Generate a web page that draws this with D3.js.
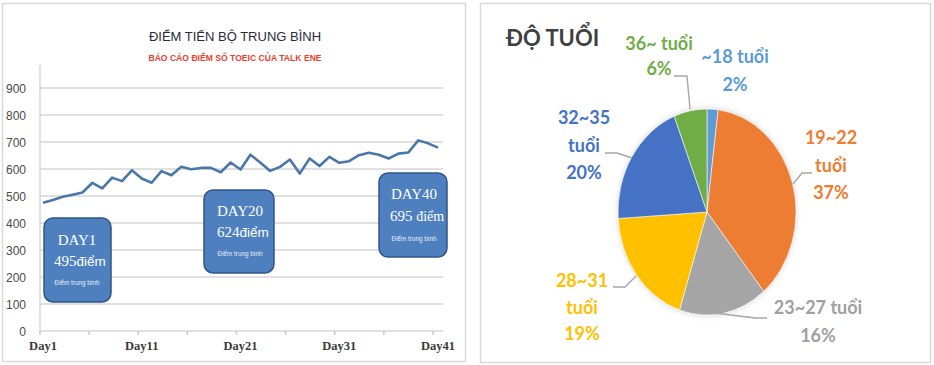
<!DOCTYPE html>
<html>
<head>
<meta charset="utf-8">
<script src="https://cdn.jsdelivr.net/npm/d3@7"></script>
<style>
  html, body { margin: 0; padding: 0; background: #fff; }
  svg { display: block; }
</style>
</head>
<body>
<svg id="chart" width="934" height="365"></svg>
<script>
// ---------- DATA ----------
const days = d3.range(1, 42);
const scores = [475, 485, 497, 505, 513, 549, 528, 568, 555, 595,
                565, 549, 592, 577, 608, 599, 604, 604, 588, 624,
                598, 653, 624, 593, 608, 635, 583, 639, 611, 645,
                623, 629, 651, 660, 653, 639, 657, 661, 706, 695, 679];
const yTicks = [0, 100, 200, 300, 400, 500, 600, 700, 800, 900];
const xTickDays = [1, 6, 11, 16, 21, 26, 31, 36, 41];
const xLabelDays = [1, 11, 21, 31, 41];
const annoTitles = ["DAY1", "DAY20", "DAY40"];
const annoScores = ["495", "624", "695"];
const lineTitle = "ĐIỂM TIẾN BỘ TRUNG BÌNH";
const lineSubtitle = "BÁO CÁO ĐIỂM SỐ TOEIC CỦA TALK ENE";

const ageGroups = ["~18 tuổi", "19~22 tuổi", "23~27 tuổi", "28~31 tuổi", "32~35 tuổi", "36~ tuổi"];
const agePercents = [2, 37, 16, 19, 20, 6];
const pieTitle = "ĐỘ TUỔI";

// ---------- LAYOUT / STYLE ----------
const ageColors = ["#5b9bd5", "#ed7d31", "#a5a5a5", "#ffc000", "#4472c4", "#70ad47"];
const ageTextColors = ["#5b9bd5", "#ed7d31", "#a0a0a0", "#ffc000", "#4472c4", "#70ad47"];
const labelLayout = [
  { lines: ["~18 tuổi", "2%"], x: 735, y: 63, lh: 28 },
  { lines: ["19~22", "tuổi", "37%"], x: 831, y: 144, lh: 27.5 },
  { lines: ["23~27 tuổi", "16%"], x: 818, y: 314, lh: 28 },
  { lines: ["28~31", "tuổi", "19%"], x: 582, y: 287, lh: 26.5 },
  { lines: ["32~35", "tuổi", "20%"], x: 584, y: 124, lh: 27.5 },
  { lines: ["36~ tuổi", "6%"], x: 659, y: 50, lh: 25 }
];
const leaderLines = [
  null,
  [[812, 173], [802, 173], [793, 184]],
  [[767, 318], [755, 318], [715, 313]],
  [[613, 287], [625, 287], [636, 276]],
  [[605, 153], [617, 153], [632, 158]],
  [[674, 76], [687, 76], [690, 109]]
];
const boxLayout = [
  { x: 44, y: 218, w: 67, h: 84, tx: 77, t1: 245, t2: 266, t3: 285 },
  { x: 204, y: 190, w: 70, h: 83, tx: 240, t1: 216, t2: 237, t3: 256 },
  { x: 379, y: 173, w: 68, h: 84, tx: 414, t1: 199, t2: 221, t3: 241 }
];

const svg = d3.select("#chart");
svg.append("rect").attr("width", 934).attr("height", 365).attr("fill", "#fff");

// ---------- LEFT PANEL: LINE CHART ----------
svg.append("rect").attr("x", 2.5).attr("y", 3.5).attr("width", 463).attr("height", 358)
  .attr("fill", "#fff").attr("stroke", "#d9d9d9").attr("stroke-width", 1.5);

const y = d3.scaleLinear().domain([0, 900]).range([331, 88]);
const xTick = d3.scaleLinear().domain([1, 41]).range([40, 433]);
const xLine = d3.scaleLinear().domain([1, 41]).range([43, 438]);

const left = svg.append("g");

left.append("g").selectAll("line").data(yTicks).join("line")
  .attr("x1", 40).attr("x2", 443)
  .attr("y1", d => y(d)).attr("y2", d => y(d))
  .attr("stroke", "#d6d6d6").attr("stroke-width", 1.5);

left.append("line").attr("x1", 40).attr("x2", 40).attr("y1", 65).attr("y2", y(0))
  .attr("stroke", "#d6d6d6").attr("stroke-width", 1.5);

left.append("g").selectAll("line").data(xTickDays).join("line")
  .attr("x1", d => xTick(d)).attr("x2", d => xTick(d))
  .attr("y1", y(0)).attr("y2", y(0) + 4)
  .attr("stroke", "#c8c8c8").attr("stroke-width", 1.5);

left.append("g").selectAll("text").data(yTicks).join("text")
  .attr("x", 26).attr("y", d => y(d) + 4.5)
  .attr("text-anchor", "end")
  .attr("font-family", "Liberation Sans, Arial, sans-serif")
  .attr("font-size", 12).attr("fill", "#4a4a4a")
  .text(d => d);

left.append("g").selectAll("text").data(xLabelDays).join("text")
  .attr("x", d => xLine(d)).attr("y", 350)
  .attr("text-anchor", "middle")
  .attr("font-family", "Liberation Serif, 'Times New Roman', serif")
  .attr("font-weight", "bold")
  .attr("font-size", 12.5).attr("fill", "#3a3a3a")
  .text(d => "Day" + d);

const line = d3.line().x((d, i) => xLine(days[i])).y(d => y(d));
left.append("path").datum(scores)
  .attr("d", line).attr("fill", "none")
  .attr("stroke", "#4a77a9").attr("stroke-width", 2.6)
  .attr("stroke-linejoin", "round");

left.append("text").attr("x", 235).attr("y", 41).attr("text-anchor", "middle")
  .attr("font-family", "Liberation Sans, Arial, sans-serif")
  .attr("font-size", 13).attr("fill", "#2a2a3a").text(lineTitle);
left.append("text").attr("x", 235).attr("y", 61).attr("text-anchor", "middle")
  .attr("font-family", "Liberation Sans, Arial, sans-serif").attr("font-weight", "bold")
  .attr("font-size", 8.6).attr("fill", "#e8402e").text(lineSubtitle);

boxLayout.forEach((b, i) => {
  const g = left.append("g");
  g.append("rect").attr("x", b.x).attr("y", b.y).attr("width", b.w).attr("height", b.h)
    .attr("rx", 9).attr("ry", 9)
    .attr("fill", "#4e7fbe").attr("stroke", "#2f5686").attr("stroke-width", 1.5);
  g.append("text").attr("x", b.tx).attr("y", b.t1).attr("text-anchor", "middle")
    .attr("font-family", "Liberation Serif, 'Times New Roman', serif")
    .attr("font-size", 15).attr("fill", "#fff").text(annoTitles[i]);
  const t2 = g.append("text").attr("x", b.tx + 3).attr("y", b.t2).attr("text-anchor", "middle")
    .attr("fill", "#fff");
  t2.append("tspan").attr("font-family", "Liberation Serif, 'Times New Roman', serif")
    .attr("font-size", 15).text(annoScores[i] + (i === 2 ? " " : ""));
  t2.append("tspan").attr("font-family", i === 2 ? "Liberation Serif, serif" : "Liberation Sans, Arial, sans-serif")
    .attr("font-size", i === 2 ? 14 : 13.5).text("điểm");
  g.append("text").attr("x", b.tx).attr("y", b.t3).attr("text-anchor", "middle")
    .attr("font-family", "Liberation Sans, Arial, sans-serif")
    .attr("font-size", 6.3).attr("fill", "#e8eef8").text("Điểm trung bình");
});

// ---------- RIGHT PANEL: PIE ----------
svg.append("rect").attr("x", 480.5).attr("y", 3.5).attr("width", 450).attr("height", 359)
  .attr("fill", "#fff").attr("stroke", "#d9d9d9").attr("stroke-width", 1.5);

svg.append("text").attr("x", 506).attr("y", 46)
  .attr("font-family", "Lato, 'Open Sans', sans-serif").attr("font-weight", "bold")
  .attr("font-size", 22).attr("fill", "#404040").text(pieTitle);

const defs = svg.append("defs");
const f = defs.append("filter").attr("id", "shadow").attr("x", "-20%").attr("y", "-20%")
  .attr("width", "140%").attr("height", "140%");
f.append("feGaussianBlur").attr("in", "SourceAlpha").attr("stdDeviation", 3).attr("result", "b");
f.append("feFlood").attr("flood-color", "#000").attr("flood-opacity", 0.18);
f.append("feComposite").attr("in2", "b").attr("operator", "in").attr("result", "s");
const fm = f.append("feMerge");
fm.append("feMergeNode").attr("in", "s");
fm.append("feMergeNode").attr("in", "SourceGraphic");

const pie = d3.pie().sort(null).value(d => d);
const arcs = pie(agePercents);
const arc = d3.arc().innerRadius(0).outerRadius(103);
const pg = svg.append("g").attr("transform", "translate(707,212) scale(0.864,1)")
  .attr("filter", "url(#shadow)");
pg.selectAll("path").data(arcs).join("path")
  .attr("d", arc)
  .attr("fill", (d, i) => ageColors[i])
  .attr("stroke", "#fff").attr("stroke-width", 0.6);

svg.append("g").selectAll("path").data(leaderLines.filter(d => d)).join("path")
  .attr("d", d => d3.line()(d)).attr("fill", "none")
  .attr("stroke", "#a6a6a6").attr("stroke-width", 1.4);

labelLayout.forEach((L, i) => {
  const t = svg.append("text").attr("text-anchor", "middle")
    .attr("font-family", "Lato, 'Open Sans', sans-serif").attr("font-weight", "bold")
    .attr("font-size", 18).attr("fill", ageTextColors[i]);
  L.lines.forEach((ln, j) => {
    t.append("tspan").attr("x", L.x).attr("y", L.y + j * L.lh).text(ln);
  });
});
</script>
</body>
</html>
